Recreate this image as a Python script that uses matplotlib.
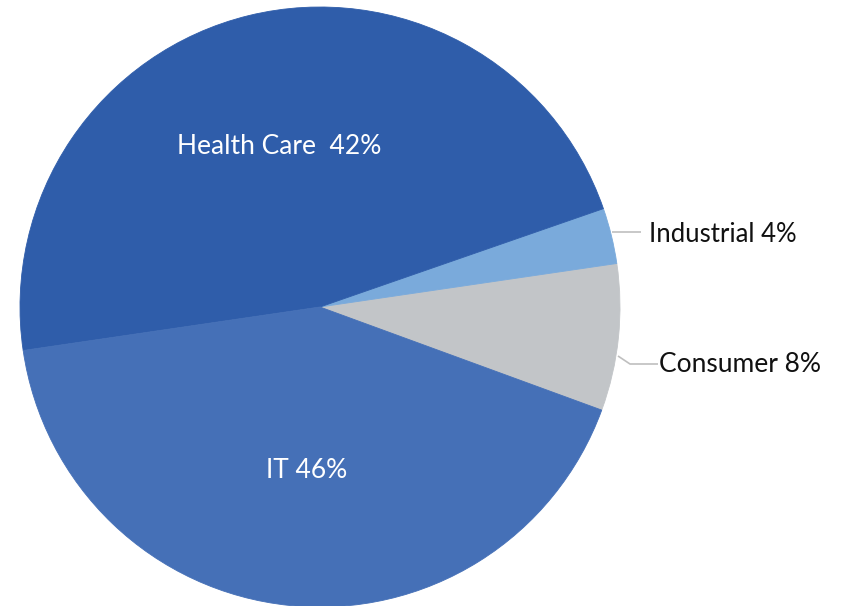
import matplotlib
matplotlib.use("Agg")
import matplotlib.pyplot as plt
import numpy as np

# Data (angular shares as drawn, counter-clockwise from Consumer)
sectors = ["Consumer", "Industrial", "Health Care", "IT"]
shares = [7.9, 3.0, 47.0, 42.1]
labels = ["Consumer 8%", "Industrial 4%", "Health Care  42%", "IT 46%"]
colors = ["#C2C5C8", "#7AAADB", "#2F5DAA", "#4570B7"]

W, H = 844, 606
fig = plt.figure(figsize=(W / 100, H / 100), dpi=100)
cx, cy, R = 320, 307, 300
ax = fig.add_axes([(cx - R) / W, (H - cy - R) / H, 2 * R / W, 2 * R / H])

start = -20.1
wedges, _ = ax.pie(shares, colors=colors, startangle=start, counterclock=True,
                   radius=1.0, center=(0, 0), frame=True,
                   wedgeprops=dict(linewidth=0.6))
for w, c in zip(wedges, colors):
    w.set_edgecolor(c)
ax.axis("off")
ax.set_xlim(-1, 1)
ax.set_ylim(-1, 1)

font = "Lato"
fs_in = 19
fs_out = 18.5

def px(x, y):
    return ((x - cx) / R, (cy - y) / R)

# inside labels
ax.text(*px(279, 146), labels[2], color="white", fontsize=fs_in, family=font,
        ha="center", va="center")
ax.text(*px(307, 471), labels[3], color="white", fontsize=fs_in, family=font,
        ha="center", va="center")

# outside labels with leader lines
lc = "#BFBFBF"
a, b = px(612, 232), px(641, 232)
ax.plot([a[0], b[0]], [a[1], b[1]], color=lc, lw=1.2,
        solid_capstyle="butt", clip_on=False)
ax.text(*px(649, 234), labels[1], color="#111111", fontsize=fs_out, family=font,
        ha="left", va="center", clip_on=False)
pts = [px(618, 356), px(630, 364), px(658, 364)]
ax.plot([p[0] for p in pts], [p[1] for p in pts], color=lc, lw=1.2,
        solid_capstyle="butt", clip_on=False)
ax.text(*px(659, 364), labels[0], color="#111111", fontsize=19, family=font,
        ha="left", va="center", clip_on=False)

fig.savefig("out.png", dpi=100, facecolor="white")
